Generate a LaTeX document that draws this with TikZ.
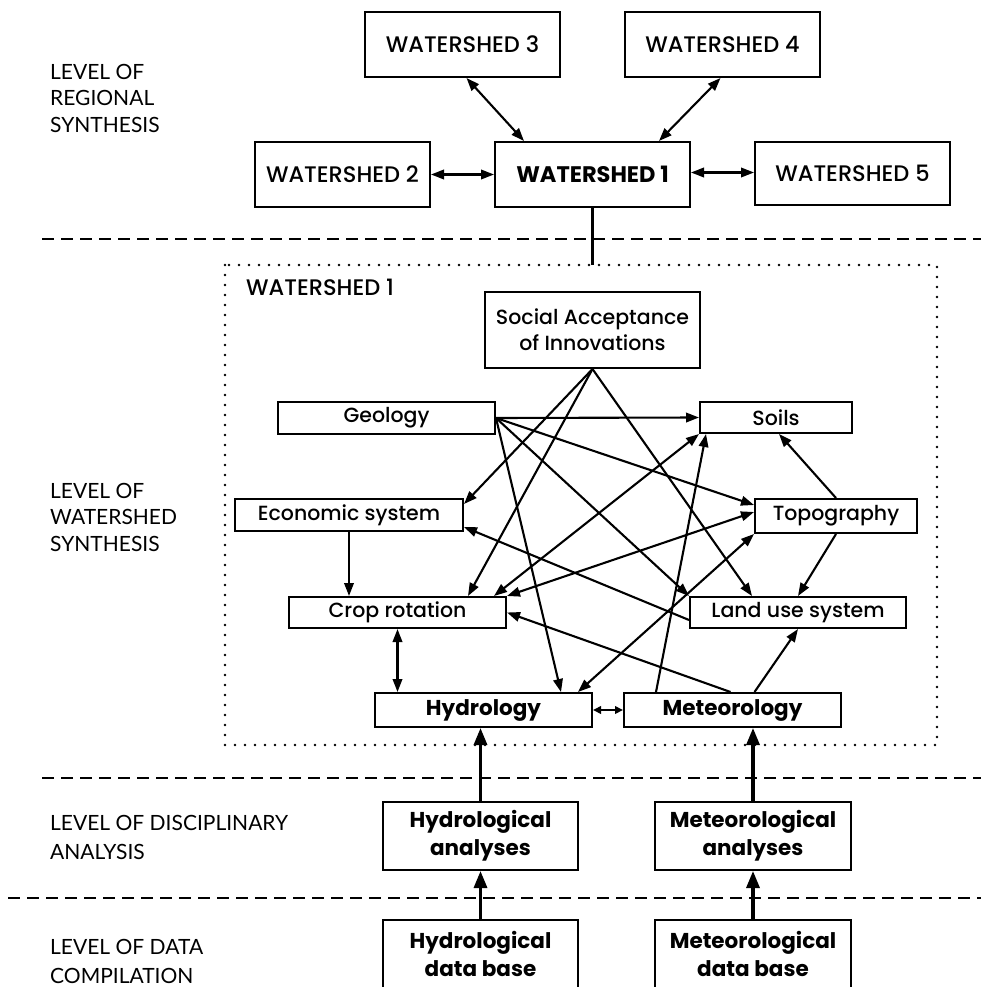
\documentclass[tikz,border=0pt]{standalone}
\usepackage{fontspec}
\setmainfont{Poppins}[UprightFont=* Medium, BoldFont=* Bold]
\newfontfamily\lblfont{Lato}
\usetikzlibrary{arrows.meta}
\begin{document}
\begin{tikzpicture}[x=1pt,y=-1pt,
  box/.style={draw, line width=2pt, inner sep=0pt, align=center, font=\fontsize{20.5}{26}\selectfont},
  capbox/.style={box, font=\fontsize{22.5}{26}\selectfont},
  bbox/.style={box, font=\fontsize{21.5}{28}\selectfont\bfseries},
  arr/.style={line width=2.1pt, -{Triangle[length=13pt,width=9.5pt]}},
  darr/.style={line width=2.1pt, {Triangle[length=13pt,width=9.5pt]}-{Triangle[length=13pt,width=9.5pt]}},
  sarr/.style={line width=2.1pt, {Triangle[length=8pt,width=7.5pt]}-{Triangle[length=8pt,width=7.5pt]}},
  big/.style={line width=3.2pt, -{Triangle[length=17pt,width=13pt]}},
  lvl/.style={anchor=west, align=left, inner sep=0pt, font=\lblfont\fontsize{21}{26.5}\selectfont},
  divider/.style={line width=2.2pt, dash pattern=on 12pt off 7pt},
  frame/.style={line width=2.8pt, line cap=round, dash pattern=on 0pt off 10pt}
]
\clip (0,0) rectangle (981,987);
\fill[white] (0,0) rectangle (981,987);

% regional level
\node[capbox, minimum width=195, minimum height=65] (w3) at (462.5,44.5) {WATERSHED 3};
\node[capbox, minimum width=195, minimum height=65] (w4) at (722.5,44.5) {WATERSHED 4};
\node[capbox, minimum width=175, minimum height=65] (w2) at (342.5,174.5) {WATERSHED 2};
\node[bbox, minimum width=195, minimum height=65, font=\fontsize{22.5}{26}\selectfont\bfseries] (w1) at (592.5,174.5) {WATERSHED 1};
\node[capbox, minimum width=195, minimum height=63] (w5) at (852.5,173.5) {WATERSHED 5};

\node[lvl] (l1) at (50,98) {LEVEL OF\\REGIONAL\\SYNTHESIS};
\node[lvl] (l2) at (50,517) {LEVEL OF\\WATERSHED\\SYNTHESIS};
\node[lvl, font=\lblfont\fontsize{21}{29}\selectfont] (l3) at (50,837.5) {LEVEL OF DISCIPLINARY\\ANALYSIS};
\node[lvl, font=\lblfont\fontsize{21}{29}\selectfont] (l4) at (50,961) {LEVEL OF DATA\\COMPILATION};

\draw[darr] ([xshift=4pt]w3.south) -- ([xshift=30pt]w1.north west);
\draw[darr] ([xshift=-2pt]w4.south) -- ([xshift=-32pt]w1.north east);
\draw[darr] (w2.east) -- (w2.east -| w1.west);
\draw[darr] ([yshift=2pt]w1.east) -- ([yshift=2pt]w1.east -| w5.west);

% dividers
\coordinate (d1a) at (42,239);  \coordinate (d1b) at (981,239);
\coordinate (d2a) at (42,778);  \coordinate (d2b) at (981,778);
\coordinate (d3a) at (8,898);   \coordinate (d3b) at (981,898);
\draw[divider] (d1a) -- (d1b);
\draw[divider] (d2a) -- (d2b);
\draw[divider] (d3a) -- (d3b);

% watershed 1 frame
\draw[frame] (225,265) rectangle (937,745);
\coordinate (ftop) at (592.5,265);
\draw[line width=2.1pt] (w1.south) -- (ftop);
\node[anchor=west, inner sep=0pt, font=\fontsize{22.5}{26}\selectfont] (wlab) at (246,287) {WATERSHED 1};

% watershed synthesis nodes
\node[box, minimum width=215, minimum height=76] (soc) at (592.5,330) {Social Acceptance\\of Innovations};
\node[box, minimum width=217, minimum height=32] (geo) at (386.5,418) {Geology};
\node[box, minimum width=152, minimum height=31] (soils) at (776,417.5) {Soils};
\node[box, minimum width=228, minimum height=32] (eco) at (349,515) {Economic system};
\node[box, minimum width=162, minimum height=34] (topo) at (836,516) {Topography};
\node[box, minimum width=217, minimum height=31] (crop) at (397.5,612.5) {Crop rotation};
\node[box, minimum width=216, minimum height=31] (land) at (798,612.5) {Land use system};
\node[bbox, minimum width=217, minimum height=34] (hyd) at (483.5,710) {Hydrology};
\node[bbox, minimum width=217, minimum height=34] (met) at (732.5,710) {Meteorology};

% web of relations
\draw[arr] (geo.east) -- (soils.west);
\draw[arr] (geo.east) -- ([yshift=11pt]topo.west);
\draw[arr] (geo.east) -- (land.north west);
\draw[arr] (geo.east) -- ([xshift=-32pt]hyd.north east);
\draw[arr] (soc.south) -- ([yshift=-6pt]eco.north east);
\draw[arr] (soc.south) -- ([xshift=-39pt]crop.north east);
\draw[arr] (soc.south) -- ([xshift=-46pt]land.north);
\draw[darr] (soils.south west) -- ([xshift=-13pt]crop.north east);
\draw[arr] ([xshift=33pt]met.north west) -- ([xshift=7pt]soils.south west);
\draw[arr] (topo.north) -- ([xshift=80pt]soils.south west);
\draw[arr] (topo.south) -- (land.north);
\draw[darr] (crop.north east) -- ([yshift=4pt]topo.west);
\draw[darr] (topo.south west) -- ([xshift=-15pt]hyd.north east);
\draw[arr] ([yshift=-7.5pt]land.west) -- ([yshift=-12pt]eco.east);
\draw[arr] ([xshift=-2pt]met.north) -- (crop.east);
\draw[arr] ([xshift=22pt]met.north) -- (land.south);
\draw[arr] (eco.south) -- (eco.south |- crop.north);
\draw[darr] (crop.south) -- (crop.south |- hyd.north);
\draw[sarr] (hyd.east) -- (met.west);

% disciplinary analysis and data
\node[bbox, minimum width=195, minimum height=68] (ha) at (480.5,836) {Hydrological\\analyses};
\node[bbox, minimum width=196, minimum height=68] (ma) at (753,836) {Meteorological\\analyses};
\node[bbox, minimum width=195, minimum height=68] (hd) at (480.5,954) {Hydrological\\data base};
\node[bbox, minimum width=196, minimum height=68] (md) at (753,954) {Meteorological\\data base};

\draw[big] (ha.north) -- (ha.north |- hyd.south);
\draw[big] (ma.north) -- (ma.north |- met.south);
\draw[big] (hd.north) -- (ha.south);
\draw[big] (md.north) -- (ma.south);
\end{tikzpicture}
\end{document}
